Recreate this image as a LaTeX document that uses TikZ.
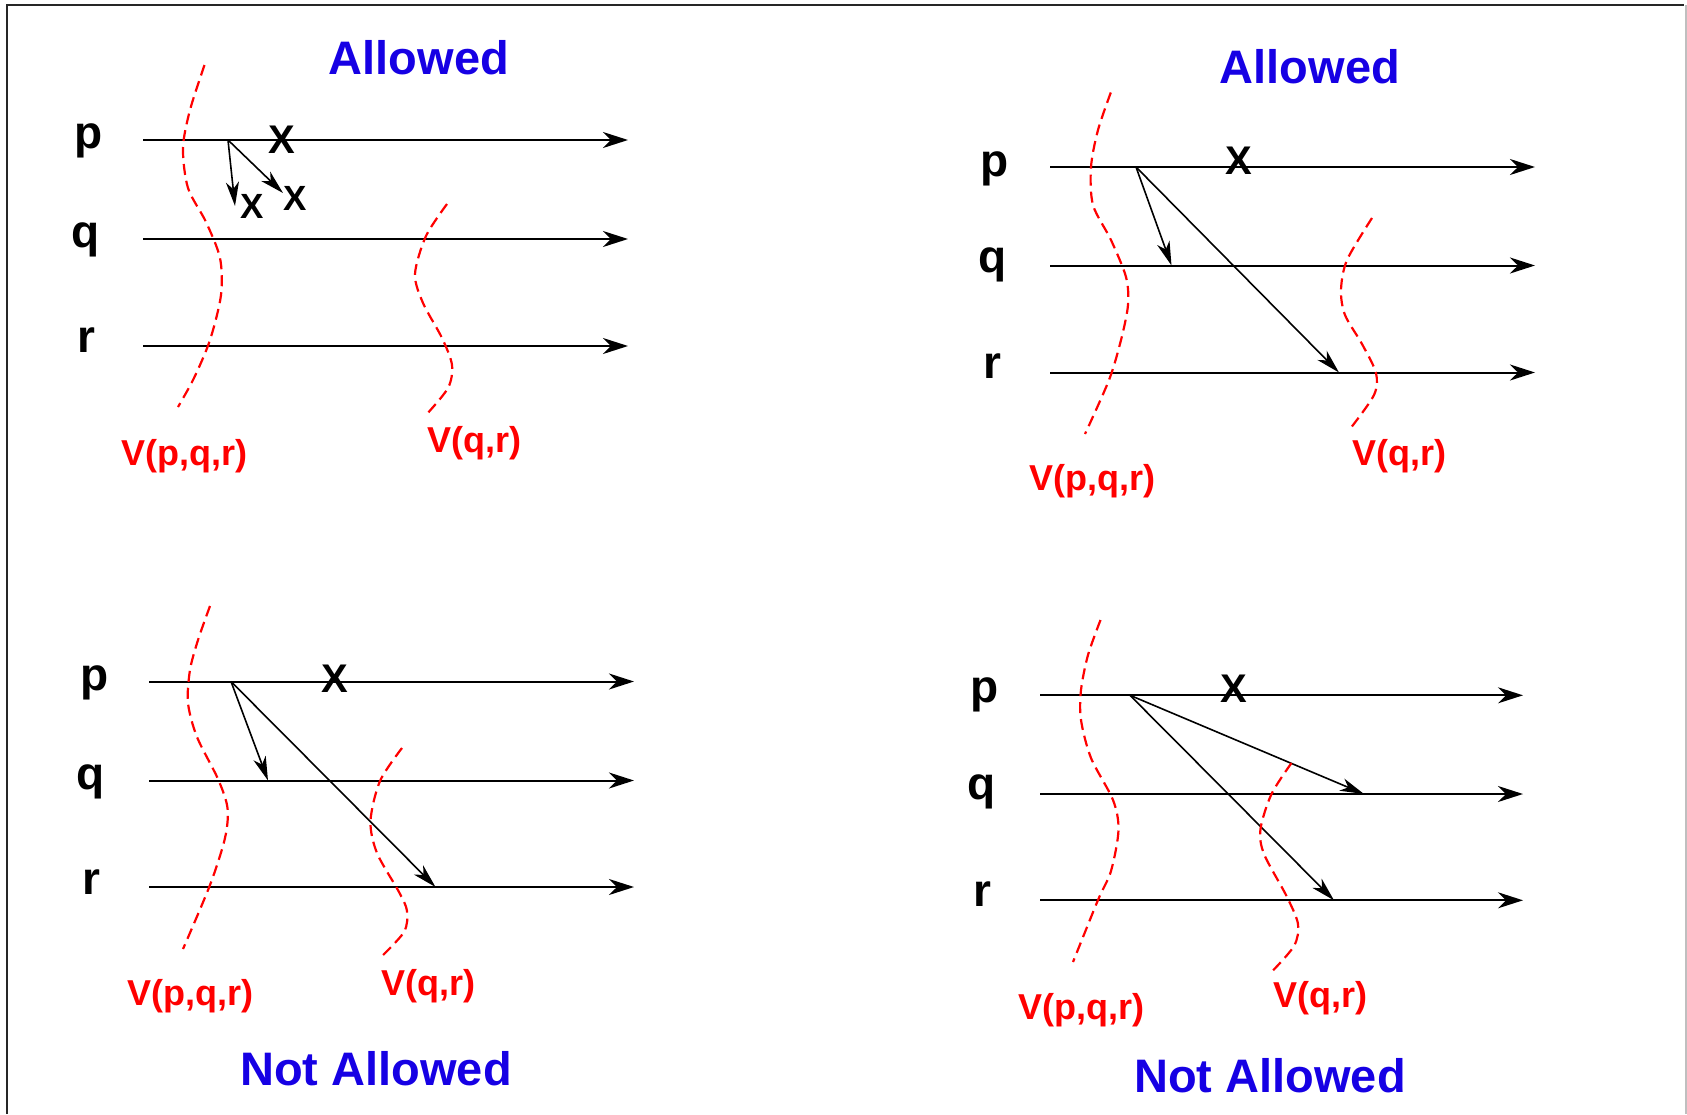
\documentclass[tikz,border=0pt]{standalone}
\usepackage{fontspec}
\setmainfont{Liberation Sans}
\usetikzlibrary{arrows.meta}
\definecolor{ttlblue}{RGB}{22,0,228}
\definecolor{cutred}{RGB}{255,0,0}
\tikzset{
  every node/.style={inner sep=0pt, outer sep=0pt},
  ttl/.style={anchor=base, text=ttlblue, font=\fontsize{47}{50}\selectfont\bfseries},
  proc/.style={anchor=base, font=\fontsize{46}{50}\selectfont\bfseries},
  bigx/.style={anchor=center, font=\fontsize{40}{44}\selectfont\bfseries},
  smallx/.style={anchor=center, font=\fontsize{35}{40}\selectfont\bfseries},
  cutlbl/.style={anchor=base, text=cutred, font=\fontsize{36}{40}\selectfont\bfseries},
  timeline/.style={line width=2pt, -{Stealth[length=25pt,width=16pt,inset=8pt]}},
  msg/.style={line width=1.6pt, -{Stealth[length=24pt,width=13pt,inset=7pt]}},
  cut/.style={cutred, line width=2.2pt, dash pattern=on 11pt off 6pt},
}
\begin{document}
\begin{tikzpicture}[x=1pt,y=-1pt]
\useasboundingbox (0,0) rectangle (1687,1114);
% frame
\draw[line width=1.5pt, black!85] (7,1114) -- (7,5) -- (1684,5);
\draw[line width=1.5pt, black!25] (1686,5) -- (1686,1114);

% ================= Panel 1 =================
\node[ttl] (t1) at (419,74) {Allowed};
\node[proc] (p1) at (89,148) {p};
\node[proc] (q1) at (86,247) {q};
\node[proc] (r1) at (86,352) {r};
\coordinate (p1s) at (143,140); \coordinate (p1e) at (628,140);
\coordinate (q1s) at (143,239); \coordinate (q1e) at (628,239);
\coordinate (r1s) at (143,346); \coordinate (r1e) at (628,346);
\draw[timeline] (p1s) -- (p1e);
\draw[timeline] (q1s) -- (q1e);
\draw[timeline] (r1s) -- (r1e);
\node[bigx] (x1) at (281.5,140) {X};
\coordinate (m1) at (228,140);
\coordinate (m1a) at (235,206);
\coordinate (m1b) at (283,193);
\draw[msg] (m1) -- (m1a);
\draw[msg] (m1) -- (m1b);
\node[smallx] (x1a) at (252.5,206) {X};
\node[smallx] (x1b) at (295,198) {X};
\draw[cut] plot[smooth] coordinates {(204.5,65) (190,110) (183,148) (188,188) (206,222) (220,258) (221,295) (210,340) (194,378) (178,407)};
\draw[cut] plot[smooth] coordinates {(447,204) (426,236) (415,274) (423,303) (442,338) (452,365) (448,388) (426,415)};
\node[cutlbl] (v1a) at (184,465) {V(p,q,r)};
\node[cutlbl] (v1b) at (474,452) {V(q,r)};

% ================= Panel 2 =================
\node[ttl] (t2) at (1310,83) {Allowed};
\node[proc] (p2) at (995,176) {p};
\node[proc] (q2) at (992.5,272) {q};
\node[proc] (r2) at (992,378) {r};
\coordinate (p2s) at (1050,167); \coordinate (p2e) at (1535,167);
\coordinate (q2s) at (1050,265.5); \coordinate (q2e) at (1535,265.5);
\coordinate (r2s) at (1050,372.5); \coordinate (r2e) at (1535,372.5);
\draw[timeline] (p2s) -- (p2e);
\draw[timeline] (q2s) -- (q2e);
\draw[timeline] (r2s) -- (r2e);
\node[bigx] (x2) at (1239,161) {X};
\coordinate (m2) at (1136,167);
\coordinate (m2q) at (1171.5,265.5);
\coordinate (m2r) at (1339,372.5);
\draw[msg] (m2) -- (m2q);
\draw[msg] (m2) -- (m2r);
\draw[cut] plot[smooth] coordinates {(1110.8,92.5) (1098,130) (1091,167) (1093,205) (1111,240) (1126,277) (1128,305) (1121,340) (1109,380) (1085,434)};
\draw[cut] plot[smooth] coordinates {(1372,218) (1347,260) (1341,290) (1345,315) (1362,344) (1376,373) (1374,395) (1351.5,427)};
\node[cutlbl] (v2a) at (1092,490) {V(p,q,r)};
\node[cutlbl] (v2b) at (1399.5,465) {V(q,r)};

% ================= Panel 3 =================
\node[proc] (p3) at (94.3,690) {p};
\node[proc] (q3) at (91,789) {q};
\node[proc] (r3) at (91.4,894) {r};
\coordinate (p3s) at (149,681.5); \coordinate (p3e) at (634,681.5);
\coordinate (q3s) at (149,780.5); \coordinate (q3e) at (634,780.5);
\coordinate (r3s) at (149,887); \coordinate (r3e) at (634,887);
\draw[timeline] (p3s) -- (p3e);
\draw[timeline] (q3s) -- (q3e);
\draw[timeline] (r3s) -- (r3e);
\node[bigx] (x3) at (335,679) {X};
\coordinate (m3) at (231,681.5);
\coordinate (m3q) at (268,780.5);
\coordinate (m3r) at (435.5,887);
\draw[msg] (m3) -- (m3q);
\draw[msg] (m3) -- (m3r);
\draw[cut] plot[smooth] coordinates {(210,606) (198,640) (190,670) (188,703) (197,737) (218,779) (227.5,808) (225,838) (210,885) (183,949)};
\draw[cut] plot[smooth] coordinates {(402,748) (380,781) (370.5,821) (377,853) (399,892) (407,911) (404,932) (380,958)};
\node[cutlbl] (v3a) at (190,1005) {V(p,q,r)};
\node[cutlbl] (v3b) at (428.5,995) {V(q,r)};
\node[ttl] (t3) at (376,1085) {Not Allowed};

% ================= Panel 4 =================
\node[proc] (p4) at (984.6,702) {p};
\node[proc] (q4) at (981.5,799.5) {q};
\node[proc] (r4) at (982,906) {r};
\coordinate (p4s) at (1040,695.3); \coordinate (p4e) at (1523,695.3);
\coordinate (q4s) at (1040,794); \coordinate (q4e) at (1523,794);
\coordinate (r4s) at (1040,900.3); \coordinate (r4e) at (1523,900.3);
\draw[timeline] (p4s) -- (p4e);
\draw[timeline] (q4s) -- (q4e);
\draw[timeline] (r4s) -- (r4e);
\node[bigx] (x4) at (1233.5,689) {X};
\coordinate (m4) at (1130,695.3);
\coordinate (m4q) at (1364,794);
\coordinate (m4r) at (1334,900.3);
\draw[msg] (m4) -- (m4q);
\draw[msg] (m4) -- (m4r);
\draw[cut] plot[smooth] coordinates {(1100.5,620) (1088,655) (1081,690) (1081,720) (1091,758) (1113,800) (1118.5,830) (1111,871) (1098,900) (1073,962)};
\draw[cut] plot[smooth] coordinates {(1291.5,763) (1271.5,794) (1260.5,829) (1264,854) (1286.5,896) (1298,924) (1294,946) (1271.5,972)};
\node[cutlbl] (v4a) at (1081,1019) {V(p,q,r)};
\node[cutlbl] (v4b) at (1320,1007) {V(q,r)};
\node[ttl] (t4) at (1270,1092) {Not Allowed};
\end{tikzpicture}
\end{document}
